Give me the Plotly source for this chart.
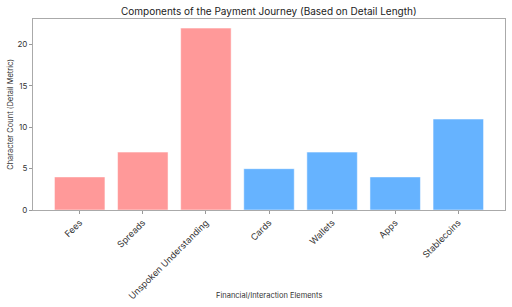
import plotly.graph_objects as go

categories = ["Fees", "Spreads", "Unspoken Understanding", "Cards", "Wallets", "Apps", "Stablecoins"]
values = [4, 7, 22, 5, 7, 4, 11]
colors = ["#ff9999", "#ff9999", "#ff9999", "#66b3ff", "#66b3ff", "#66b3ff", "#66b3ff"]
x_title = "Financial/Interaction Elements"
y_title = "Character Count (Detail Metric)"

fig = go.Figure(go.Bar(
    x=list(range(len(categories))), y=values,
    marker=dict(color=colors, line=dict(color="white", width=0.5)),
    width=0.8,
))

font = "Inter, Roboto, sans-serif"
fig.update_layout(
    width=512, height=307,
    margin=dict(l=33, r=7, t=19, b=97),
    paper_bgcolor="white", plot_bgcolor="white",
    font=dict(family=font, size=8, color="#333"),
    title=dict(text="Components of the Payment Journey (Based on Detail Length)",
               x=0.525, xanchor="center", y=0.962, yanchor="middle",
               font=dict(size=10, color="#222")),
    showlegend=False,
    bargap=0.2,
)
fig.update_xaxes(
    range=[-0.74, 6.74], tickmode="array", tickvals=list(range(len(categories))),
    ticktext=categories, tickangle=-45, ticks="outside", ticklen=3, tickcolor="#999",
    tickfont=dict(size=9),
    showline=True, linecolor="#aaa", linewidth=1, mirror=True, showgrid=False, zeroline=False,
    automargin=False,
)
fig.update_yaxes(
    range=[0, 23.1], tickvals=[0, 5, 10, 15, 20], ticks="outside", ticklen=3, tickcolor="#999",
    tickfont=dict(size=8),
    showline=True, linecolor="#aaa", linewidth=1, mirror=True, showgrid=False, zeroline=False,
    automargin=False,
)
fig.add_annotation(text=x_title, xref="paper", yref="paper", x=0.5, y=-0.45,
                   xanchor="center", yanchor="middle", showarrow=False,
                   font=dict(size=7.5, color="#333"))
fig.add_annotation(text=y_title, xref="paper", yref="paper", x=-0.048, y=0.5,
                   xanchor="center", yanchor="middle", textangle=-90, showarrow=False,
                   font=dict(size=7.5, color="#333"))
fig.write_html("out.html")
